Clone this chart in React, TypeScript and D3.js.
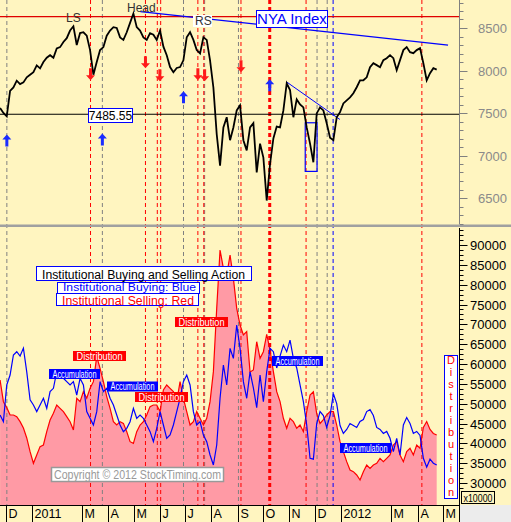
import * as d3 from 'd3';

// NYA closes, sampled every ~3.94 days from late Nov 2010
const priceValues = [
  7560, 7500, 7460, 7760, 7800, 7880, 7840, 7860, 7920, 7950,
  7980, 8060, 8025, 8100, 8150, 8180, 8150, 8260, 8275, 8335,
  8380, 8470, 8520, 8300, 8440, 8450, 8410, 8240, 7950, 8100,
  8240, 8275, 8410, 8470, 8510, 8500, 8390, 8360, 8450, 8560,
  8670, 8510, 8470, 8390, 8360, 8440, 8420, 8360, 8470, 8280,
  8180, 8040, 7980, 8030, 8040, 8120, 8390, 8450, 8360, 8240,
  8200, 8390, 8360, 8120, 7800, 7250, 6880, 7330, 7450, 7180,
  7330, 7530, 7590, 7180, 7060, 7330, 7380, 6800, 7140, 6975,
  6470, 6900, 7200, 7340, 7330, 7530, 7850, 7770, 7450, 7660,
  7600, 7566, 7330, 7140, 6920, 7495, 7566, 7530, 7380, 7210,
  7180, 7450, 7510, 7613, 7649, 7684, 7732, 7803, 7885, 7885,
  7920, 8039, 8086, 8063, 8039, 8122, 8145, 8181, 8145, 8004,
  8122, 8240, 8275, 8216, 8204, 8240, 8263, 8086, 7885, 7968,
  8027, 8010,
];

// institutional selling (red) and buying (blue), same sampling
const sellingValues = [
  55970, 50500, 49000, 47140, 47140, 46730, 45460, 43870, 41350, 37900,
  34970, 37060, 39170, 39580, 42940, 45890, 47570, 49670, 48830, 47990,
  46730, 45460, 43370, 51360, 50510, 53030, 51360, 53870, 55550, 61840,
  58920, 55550, 51780, 48830, 45460, 44620, 45460, 45040, 42940, 40420,
  40000, 42940, 44620, 45460, 47140, 49250, 49670, 49670, 47990, 53450,
  54710, 53870, 53030, 50510, 55550, 51360, 47990, 44620, 45460, 47990,
  46310, 44620, 46310, 50510, 58070, 74040, 88740, 84130, 82430, 87480,
  81600, 74040, 69830, 67310, 68150, 58000, 58500, 65620, 61420, 63100,
  67500, 63500, 58070, 53030, 50510, 46310, 43790, 46310, 45460, 43790,
  44620, 42940, 47990, 52180, 53000, 47500, 45000, 46000, 47140, 47990,
  47990, 44620, 40420, 37900, 35380, 33280, 32860, 32020, 30760, 32860,
  34540, 33700, 34540, 34960, 36220, 35380, 36220, 37060, 39580, 40420,
  37060, 35380, 37900, 38750, 37060, 39580, 38750, 44000, 45500, 43500,
  42500, 42100,
];

const buyingValues = [
  47140, 45460, 54710, 57230, 62270, 63100, 62000, 64000, 58000, 51000,
  49670, 47990, 49670, 51360, 48830, 53030, 53870, 58070, 57650, 56400,
  55550, 54710, 55550, 52180, 56400, 54710, 47990, 46310, 44620, 47990,
  55550, 53030, 53870, 51360, 49670, 47140, 44620, 42940, 43790, 45460,
  48830, 46310, 47140, 46310, 44620, 42940, 40420, 43790, 47990, 44620,
  41270, 42100, 44620, 47990, 51360, 55550, 57230, 54710, 47990, 44620,
  45460, 42100, 40420, 37060, 34540, 39580, 51360, 59750, 54710, 63950,
  61420, 69830, 63950, 55550, 51360, 58000, 54000, 49000, 57230, 50510,
  58070, 63950, 63100, 59000, 62000, 64790, 63100, 66000, 61420, 59000,
  54710, 50510, 44620, 36220, 36000, 45000, 48000, 47000, 44000, 47000,
  52500, 50000, 44500, 42500, 43500, 45000, 44500, 44000, 45500, 46000,
  48000, 48500, 47000, 44000, 43500, 42500, 43000, 41270, 37900, 41270,
  37060, 44620, 46500, 45000, 42500, 43000, 42000, 36220, 34000, 36000,
  35000, 34540,
];

const SERIES_START = new Date(2010, 10, 24);
const STEP_DAYS = 3.943;

const monthTicks = [
  '2010-12-01', '2011-01-01', '2011-03-01', '2011-04-01', '2011-05-01', '2011-06-01',
  '2011-07-01', '2011-08-01', '2011-09-01', '2011-10-01', '2011-11-01', '2011-12-01',
  '2012-01-01', '2012-03-01', '2012-04-01', '2012-05-01',
];
const monthLabels = ['D', '2011', 'M', 'A', 'M', 'J', 'J', 'A', 'S', 'O', 'N', 'D', '2012', 'M', 'A', 'M'];

const grayLines = ['2010-12-02', '2011-03-25', '2011-06-29', '2011-07-24', '2011-09-02', '2011-12-04', '2011-12-16'];
const redLines = ['2011-03-11', '2011-05-15', '2011-05-29', '2011-06-02', '2011-07-16', '2011-07-23', '2011-09-05', '2011-11-21', '2012-04-06'];
const thickRedLines = ['2011-10-09'];
const blueLines = ['2011-12-23'];

const upArrows: [string, number][] = [
  ['2010-12-02', 7247], ['2011-03-25', 7259], ['2011-06-29', 7755], ['2011-10-09', 7897],
];
const downArrows: [string, number][] = [
  ['2011-03-11', 7885], ['2011-05-15', 8027], ['2011-06-01', 7873],
  ['2011-07-16', 7885], ['2011-07-24', 7873], ['2011-09-05', 7980],
];

const resistanceLevel = 8635;
const supportLevel = 7485.55;
const headLine: [string, number][] = [['2011-05-09', 8693], ['2012-05-07', 8299]];
const octLine: [string, number][] = [['2011-10-29', 7865], ['2011-12-31', 7424]];
const boxRange: [string, string, number, number] = ['2011-11-20', '2011-12-04', 7385, 6813];

const topTicks = [6500, 7000, 7500, 8000, 8500];
const botTicks = [30000, 35000, 40000, 45000, 50000, 55000, 60000, 65000, 70000, 75000, 80000, 85000, 90000];

const W = 511;
const H = 522;
const AXIS_X = 459.5;
const TOP_BOTTOM = 224;
const BOT_TOP = 228;
const BOT_BOTTOM = 505;
const BG = '#fff5c0';
const FONT = 'Liberation Sans, Arial, sans-serif';

const parse = d3.timeParse('%Y-%m-%d');
const pd = (s: string) => parse(s) as Date;

const x = d3.scaleTime().domain([new Date(2010, 11, 1), new Date(2012, 4, 1)]).range([6, 443]);
const yTop = d3.scaleLinear().domain([6500, 8500]).range([198, 28]);
const yBot = d3.scaleLinear().domain([30000, 90000]).range([483, 245]);

const seriesDate = (i: number) => new Date(SERIES_START.getTime() + i * STEP_DAYS * 864e5);

function upArrow(cx: number, ty: number) {
  return `M${cx},${ty} L${cx + 4.5},${ty + 5} L${cx + 1.5},${ty + 5} L${cx + 1.5},${ty + 12} L${cx - 1.5},${ty + 12} L${cx - 1.5},${ty + 5} L${cx - 4.5},${ty + 5} Z`;
}
function downArrow(cx: number, by: number) {
  return `M${cx},${by} L${cx + 4.5},${by - 5} L${cx + 1.5},${by - 5} L${cx + 1.5},${by - 12} L${cx - 1.5},${by - 12} L${cx - 1.5},${by - 5} L${cx - 4.5},${by - 5} Z`;
}

function Tag({ x0, y0, text, bg }: { x0: number; y0: number; text: string; bg: string }) {
  const w = text === 'Distribution' ? 53 : 51;
  return (
    <g>
      <rect x={x0} y={y0} width={w} height={10} fill={bg} />
      <text x={x0 + 3.5} y={y0 + 8.5} fontSize={10.5} fill="#fff" fontFamily={FONT}
        textLength={w - 7} lengthAdjust="spacingAndGlyphs">{text}</text>
    </g>
  );
}

export default function App() {
  const priceLine = d3.line<number>().x((_, i) => x(seriesDate(i))).y((d) => yTop(d));
  const sellArea = d3.area<number>().x((_, i) => x(seriesDate(i))).y0(BOT_BOTTOM).y1((d) => yBot(d));
  const sellLine = d3.line<number>().x((_, i) => x(seriesDate(i))).y((d) => yBot(d));
  const buyLine = d3.line<number>().x((_, i) => x(seriesDate(i))).y((d) => yBot(d));

  const topMinor = d3.range(6200, 8801, 100);
  const botMinor = d3.range(28750, 93751, 1250);

  const vline = (d: string, color: string, w: number, key: string) => (
    <line key={key} x1={x(pd(d))} x2={x(pd(d))} y1={0} y2={BOT_BOTTOM} stroke={color} strokeWidth={w} strokeDasharray="4,3" />
  );

  return (
    <svg width={W} height={H} style={{ position: 'absolute', left: 0, top: 0 }} fontFamily={FONT}>
      <defs>
        <clipPath id="topClip"><rect x={0} y={0} width={AXIS_X} height={TOP_BOTTOM} /></clipPath>
        <clipPath id="botClip"><rect x={0} y={BOT_TOP} width={AXIS_X} height={BOT_BOTTOM - BOT_TOP} /></clipPath>
      </defs>
      <rect width={W} height={H} fill={BG} />

      {/* lower panel fill */}
      <g clipPath="url(#botClip)">
        <path d={sellArea(sellingValues) ?? ''} fill="#ff9aa5" />
      </g>

      {/* event lines */}
      <g>
        {grayLines.map((d, i) => vline(d, '#808080', 1, 'g' + i))}
        {redLines.map((d, i) => vline(d, '#ff0000', 1, 'r' + i))}
        {thickRedLines.map((d, i) => vline(d, '#ff0000', 3, 't' + i))}
        {blueLines.map((d, i) => vline(d, '#0000ff', 1, 'b' + i))}
      </g>

      {/* top panel */}
      <g clipPath="url(#topClip)">
        <line x1={0} x2={AXIS_X} y1={yTop(resistanceLevel)} y2={yTop(resistanceLevel)} stroke="#e00000" strokeWidth={1.2} />
        <line x1={0} x2={AXIS_X} y1={yTop(supportLevel)} y2={yTop(supportLevel)} stroke="#000" strokeWidth={1.2} />
        <line x1={x(pd(headLine[0][0]))} y1={yTop(headLine[0][1])} x2={x(pd(headLine[1][0]))} y2={yTop(headLine[1][1])} stroke="#0000ff" strokeWidth={1.2} />
        <line x1={x(pd(octLine[0][0]))} y1={yTop(octLine[0][1])} x2={x(pd(octLine[1][0]))} y2={yTop(octLine[1][1])} stroke="#0000ff" strokeWidth={1} />
        <rect x={x(pd(boxRange[0]))} y={yTop(boxRange[2])} width={x(pd(boxRange[1])) - x(pd(boxRange[0]))} height={yTop(boxRange[3]) - yTop(boxRange[2])} fill="none" stroke="#0000ff" strokeWidth={1.2} />
        <path d={priceLine(priceValues) ?? ''} fill="none" stroke="#000" strokeWidth={1.8} strokeLinejoin="miter" />
        {upArrows.map(([d, v], i) => (
          <path key={'u' + i} d={upArrow(x(pd(d)), yTop(v))} fill="#1a2cff" />
        ))}
        {downArrows.map(([d, v], i) => (
          <path key={'d' + i} d={downArrow(x(pd(d)), yTop(v))} fill="#ff1a1a" />
        ))}
        <text x={66} y={22} fontSize={12} fill="#333">LS</text>
        <text x={127} y={12} fontSize={12} fill="#333">Head</text>
        <rect x={193} y={15} width={19} height={12} fill="#fff" />
        <text x={195} y={25} fontSize={12} fill="#333">RS</text>
        <rect x={88.5} y={108.5} width={44} height={14} fill="#fff" stroke="#0000ff" />
        <text x={110.5} y={119.5} fontSize={12} fill="#000" textAnchor="middle">7485.55</text>
        <rect x={256.5} y={10.5} width={71} height={17} fill="#fff" stroke="#0000ff" />
        <text x={292} y={24} fontSize={15} fill="#0000ff" textAnchor="middle">NYA Index</text>
      </g>

      {/* lower panel lines */}
      <g clipPath="url(#botClip)">
        <path d={sellLine(sellingValues) ?? ''} fill="none" stroke="#ff0000" strokeWidth={1.2} />
        <path d={buyLine(buyingValues) ?? ''} fill="none" stroke="#0000ff" strokeWidth={1.2} />
      </g>

      {/* lower panel annotations */}
      <rect x={57.5} y={282.5} width={142} height={11} fill="#fff" stroke="#0000ff" />
      <text x={63} y={291} fontSize={11.5} fill="#0000ff" textLength={133} lengthAdjust="spacingAndGlyphs">Institutional Buying: Blue</text>
      <rect x={36.5} y={266.5} width={215} height={14} fill="#fff" stroke="#0000ff" />
      <text x={42} y={278.5} fontSize={12.5} fill="#000" textLength={203} lengthAdjust="spacingAndGlyphs">Institutional Buying and Selling Action</text>
      <rect x={56.5} y={293.5} width={142} height={12} fill="#fff" stroke="#0000ff" />
      <text x={62} y={304.5} fontSize={12} fill="#ff0000" textLength={132} lengthAdjust="spacingAndGlyphs">Institutional Selling: Red</text>

      <Tag x0={73} y0={351} text="Distribution" bg="#ff0000" />
      <Tag x0={107} y0={381.5} text="Accumulation" bg="#0000ff" />
      <Tag x0={135} y0={392} text="Distribution" bg="#ff0000" />
      <Tag x0={175} y0={317} text="Distribution" bg="#ff0000" />
      <Tag x0={49} y0={369} text="Accumulation" bg="#0000ff" />
      <Tag x0={272} y0={356} text="Accumulation" bg="#0000ff" />
      <Tag x0={340} y0={443} text="Accumulation" bg="#0000ff" />

      <rect x={444.5} y={355.5} width={13} height={143} fill="#fff" stroke="#0000ff" />
      {'Distribution'.split('').map((c, i) => (
        <text key={i} x={451} y={364 + i * 12} fontSize={11} fill="#ff0000" textAnchor="middle">{c}</text>
      ))}

      <rect x={51.5} y={467.5} width={172} height={14} fill="#fff" stroke="#999" strokeWidth={1.5} />
      <text x={54} y={478.5} fontSize={12} fill="#999" textLength={167} lengthAdjust="spacingAndGlyphs">Copyright © 2012 StockTiming.com</text>

      {/* panel separator */}
      <rect x={0} y={224.5} width={W} height={2.5} fill="#a0a0a0" />

      {/* right axes */}
      <line x1={AXIS_X} x2={AXIS_X} y1={0} y2={TOP_BOTTOM} stroke="#808080" />
      {topMinor.map((v) => (
        <line key={'tm' + v} x1={AXIS_X} x2={AXIS_X + (v % 500 === 0 ? 8 : 4)} y1={Math.round(yTop(v)) + 0.5} y2={Math.round(yTop(v)) + 0.5} stroke="#808080" />
      ))}
      {topTicks.map((v) => (
        <text key={'tt' + v} x={478} y={yTop(v) + 5} fontSize={13} fill="#8a8a8a">{v}</text>
      ))}
      <line x1={AXIS_X} x2={AXIS_X} y1={BOT_TOP} y2={BOT_BOTTOM} stroke="#000" />
      {botMinor.filter((v) => yBot(v) > BOT_TOP && yBot(v) < BOT_BOTTOM - 14).map((v) => (
        <line key={'bm' + v} x1={AXIS_X} x2={AXIS_X + (v % 5000 === 0 ? 8 : 4)} y1={Math.round(yBot(v)) + 0.5} y2={Math.round(yBot(v)) + 0.5} stroke="#000" />
      ))}
      {botTicks.map((v) => (
        <text key={'bt' + v} x={470} y={yBot(v) + 5} fontSize={13} fill="#000">{v}</text>
      ))}
      <rect x={461.5} y={491.5} width={33} height={12} fill={BG} stroke="#000" />
      <text x={463.5} y={501.5} fontSize={10.5} fill="#000" textLength={29} lengthAdjust="spacingAndGlyphs">x10000</text>

      {/* bottom month band */}
      <rect x={AXIS_X} y={BOT_BOTTOM} width={W - AXIS_X} height={H - BOT_BOTTOM} fill="#ececec" />
      <line x1={0} x2={AXIS_X} y1={BOT_BOTTOM + 0.5} y2={BOT_BOTTOM + 0.5} stroke="#000" />
      {monthTicks.map((m, i) => {
        const px = Math.round(x(pd(m))) + 0.5;
        return (
          <g key={'m' + i}>
            <line x1={px} x2={px} y1={BOT_BOTTOM} y2={H} stroke="#000" />
            <text x={px + 2} y={518} fontSize={12.5} fill="#000">{monthLabels[i]}</text>
          </g>
        );
      })}
      <line x1={AXIS_X} x2={AXIS_X} y1={BOT_BOTTOM} y2={H} stroke="#000" />
    </svg>
  );
}
